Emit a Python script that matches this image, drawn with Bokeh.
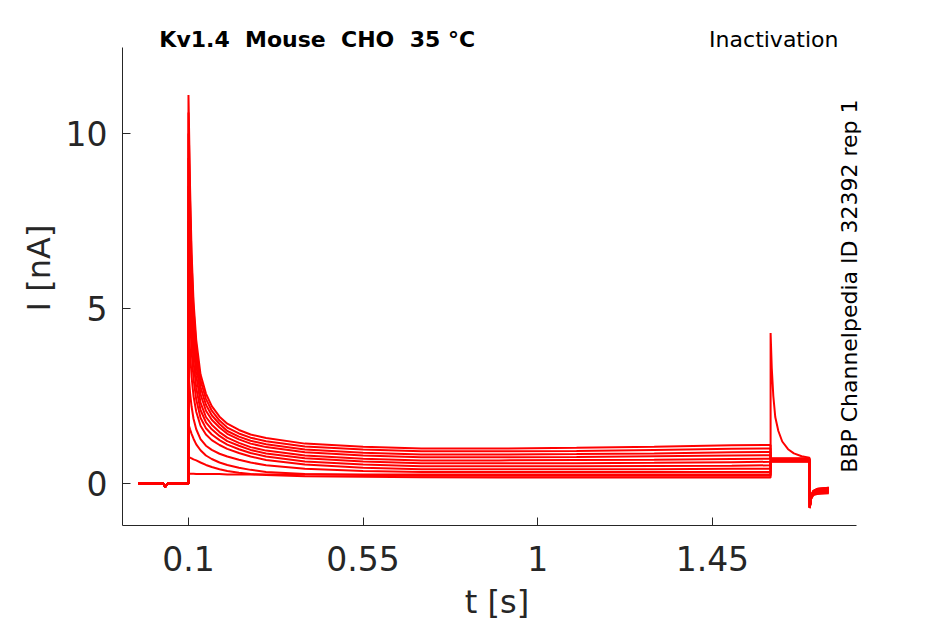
from bokeh.plotting import figure
from bokeh.models import Range1d, Label, FixedTicker
from bokeh.embed import file_html
from bokeh.resources import INLINE

# tiempos (s) y corrientes (nA)
t_pre = [-0.03, 0.035, 0.04, 0.046, 0.1]
i_pre = [0.0, 0.0, -0.1, 0.0, 0.0]

t_step = [0.1, 0.104, 0.108, 0.113, 0.12, 0.131, 0.145, 0.16, 0.18, 0.2, 0.23,
          0.26, 0.3, 0.4, 0.55, 0.7, 0.9, 1.1, 1.3, 1.5, 1.6]

step_traces = [
    [11.1, 8.5, 6.6, 5.2, 4.1, 3.12, 2.57, 2.21, 1.91, 1.71, 1.53, 1.4, 1.3, 1.14, 1.05, 1.0, 1.0, 1.02, 1.05, 1.09, 1.1],
    [10.6, 8.08, 6.34, 4.99, 3.92, 2.95, 2.42, 2.08, 1.8, 1.6, 1.43, 1.31, 1.21, 1.06, 0.97, 0.92, 0.92, 0.93, 0.96, 0.99, 1.0],
    [10.0, 7.62, 5.97, 4.68, 3.67, 2.76, 2.25, 1.95, 1.7, 1.5, 1.34, 1.22, 1.12, 0.97, 0.88, 0.83, 0.83, 0.84, 0.86, 0.89, 0.9],
    [9.3, 7.08, 5.54, 4.34, 3.4, 2.55, 2.08, 1.82, 1.6, 1.42, 1.26, 1.14, 1.04, 0.89, 0.8, 0.75, 0.75, 0.76, 0.78, 0.8, 0.81],
    [8.5, 6.46, 5.05, 3.95, 3.09, 2.31, 1.9, 1.68, 1.47, 1.31, 1.16, 1.04, 0.94, 0.8, 0.71, 0.66, 0.66, 0.67, 0.68, 0.7, 0.71],
    [7.5, 5.7, 4.46, 3.49, 2.73, 2.1, 1.75, 1.55, 1.36, 1.21, 1.08, 0.96, 0.86, 0.72, 0.63, 0.58, 0.58, 0.58, 0.59, 0.61, 0.62],
    [6.3, 4.8, 3.8, 3.0, 2.4, 1.88, 1.58, 1.4, 1.24, 1.11, 0.98, 0.87, 0.77, 0.63, 0.54, 0.49, 0.49, 0.49, 0.5, 0.51, 0.52],
    [4.9, 3.8, 3.05, 2.5, 2.05, 1.65, 1.4, 1.24, 1.1, 0.99, 0.87, 0.77, 0.67, 0.54, 0.45, 0.41, 0.41, 0.41, 0.41, 0.42, 0.42],
    [3.2, 2.6, 2.2, 1.85, 1.55, 1.27, 1.08, 0.96, 0.85, 0.77, 0.68, 0.6, 0.52, 0.42, 0.36, 0.33, 0.33, 0.33, 0.33, 0.33, 0.33],
    [1.7, 1.55, 1.42, 1.28, 1.12, 0.95, 0.8, 0.7, 0.6, 0.53, 0.45, 0.39, 0.33, 0.27, 0.24, 0.22, 0.22, 0.22, 0.22, 0.22, 0.22],
    [0.75, 0.74, 0.72, 0.69, 0.66, 0.6, 0.53, 0.47, 0.41, 0.36, 0.31, 0.27, 0.24, 0.21, 0.19, 0.18, 0.17, 0.17, 0.17, 0.17, 0.17],
    [0.28, 0.28, 0.28, 0.28, 0.27, 0.27, 0.27, 0.27, 0.27, 0.26, 0.26, 0.26, 0.26, 0.26, 0.26, 0.26, 0.26, 0.26, 0.26, 0.26, 0.26],
]

t_tail = [1.6, 1.603, 1.607, 1.612, 1.62, 1.63, 1.645, 1.66, 1.68, 1.7,
          1.701, 1.704, 1.71, 1.72, 1.75]

tail_traces = [
    [0.72, 0.72, 0.72, 0.72, 0.72, 0.72, 0.72, 0.72, 0.72, 0.72, -0.7, -0.45, -0.33, -0.3, -0.28],
    [0.71, 0.71, 0.71, 0.71, 0.71, 0.71, 0.71, 0.71, 0.71, 0.71, -0.7, -0.44, -0.32, -0.28, -0.26],
    [0.7, 0.7, 0.7, 0.7, 0.7, 0.7, 0.7, 0.7, 0.7, 0.7, -0.7, -0.43, -0.3, -0.26, -0.24],
    [0.69, 0.69, 0.69, 0.69, 0.69, 0.69, 0.69, 0.69, 0.69, 0.69, -0.69, -0.42, -0.28, -0.25, -0.22],
    [0.68, 0.68, 0.68, 0.68, 0.68, 0.68, 0.68, 0.68, 0.68, 0.68, -0.69, -0.41, -0.27, -0.23, -0.21],
    [0.67, 0.67, 0.67, 0.67, 0.67, 0.67, 0.67, 0.67, 0.67, 0.67, -0.69, -0.4, -0.26, -0.22, -0.19],
    [0.66, 0.66, 0.66, 0.66, 0.66, 0.66, 0.66, 0.66, 0.66, 0.66, -0.68, -0.39, -0.25, -0.2, -0.17],
    [0.65, 0.65, 0.65, 0.65, 0.65, 0.65, 0.65, 0.65, 0.65, 0.65, -0.68, -0.38, -0.24, -0.19, -0.16],
    [0.64, 0.64, 0.64, 0.64, 0.64, 0.64, 0.64, 0.64, 0.64, 0.64, -0.68, -0.37, -0.23, -0.18, -0.14],
    [0.63, 0.63, 0.63, 0.63, 0.63, 0.63, 0.63, 0.63, 0.63, 0.63, -0.67, -0.36, -0.22, -0.16, -0.13],
    [0.62, 0.62, 0.62, 0.62, 0.62, 0.62, 0.62, 0.62, 0.62, 0.62, -0.67, -0.35, -0.21, -0.15, -0.12],
    [4.3, 3.3, 2.5, 1.9, 1.5, 1.2, 0.98, 0.86, 0.78, 0.74, -0.7, -0.36, -0.22, -0.16, -0.12],
]

x_ticks = [0.1, 0.55, 1, 1.45]
x_tick_labels = ["0.1", "0.55", "1", "1.45"]
y_ticks = [0, 5, 10]

gris = "#262626"
fuente = "'DejaVu Sans'"
nb = "\u00a0"  # espacio duro: el svg junta los espacios dobles

# el marco va mas alla de los ejes para que los textos no se recorten
p = figure(width=945, height=624, output_backend="svg", toolbar_location=None,
           x_range=Range1d(-0.07, 1.86), y_range=Range1d(-1.2, 13.517),
           min_border_left=122, min_border_right=74,
           min_border_top=10, min_border_bottom=99)

for k in range(len(step_traces)):
    xs = t_pre + t_step + t_tail
    ys = i_pre + step_traces[k] + tail_traces[k]
    p.line(xs, ys, color="#ff0000", line_width=2)

p.outline_line_color = None
p.xgrid.visible = False
p.ygrid.visible = False

p.xaxis.ticker = FixedTicker(ticks=x_ticks)
p.xaxis.major_label_overrides = {t: s for t, s in zip(x_ticks, x_tick_labels)}
p.yaxis.ticker = FixedTicker(ticks=y_ticks)
p.xaxis.bounds = (-0.07, 1.821)
p.yaxis.bounds = (-1.2, 12.46)

for ax in (p.xaxis, p.yaxis):
    ax.axis_line_color = gris
    ax.major_tick_line_color = gris
    ax.major_tick_in = 8
    ax.major_tick_out = 0
    ax.minor_tick_line_color = None
    ax.major_label_text_font = fuente
    ax.major_label_text_font_size = "33px"
    ax.major_label_text_color = gris
    ax.axis_label_text_font = fuente
    ax.axis_label_text_font_size = "32px"
    ax.axis_label_text_font_style = "normal"
    ax.axis_label_text_color = gris

p.xaxis.axis_label = "t [s]"
p.yaxis.axis_label = "I [nA]"
p.xaxis.major_label_standoff = 20
p.yaxis.major_label_standoff = 15
p.xaxis.axis_label_standoff = 9
p.yaxis.axis_label_standoff = 5

titulo = nb.join(["Kv1.4", "", "Mouse", "", "CHO", "", "35 °C"])
p.add_layout(Label(x=0.025, y=12.69, text=titulo,
                   text_font=fuente, text_font_style="bold",
                   text_font_size="22px", text_color="black",
                   text_baseline="middle", text_align="left"))
p.add_layout(Label(x=1.775, y=12.69, text="Inactivation",
                   text_font=fuente, text_font_size="22px",
                   text_color="black", text_baseline="middle", text_align="right"))
p.add_layout(Label(x=1.803, y=5.64, text="BBP Channelpedia ID 32392 rep 1",
                   text_font=fuente, text_font_size="22px",
                   text_color="black", angle=1.5708,
                   text_baseline="middle", text_align="center"))

open("out.html", "w").write(file_html(p, INLINE))
